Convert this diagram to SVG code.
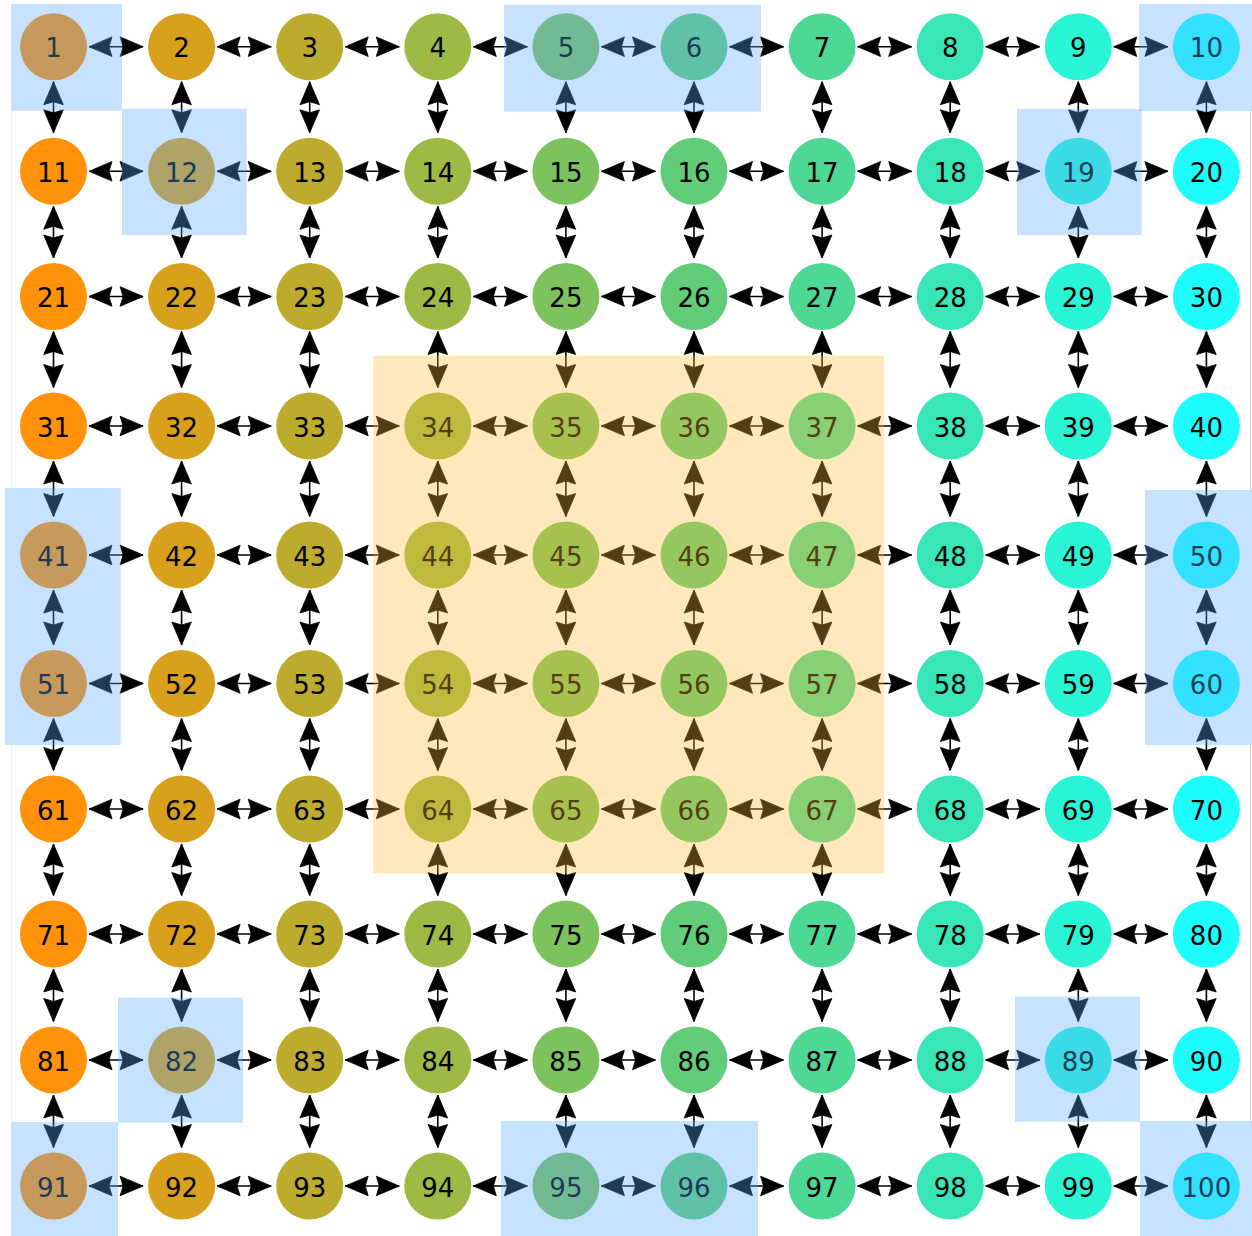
<svg xmlns="http://www.w3.org/2000/svg" width="1252" height="1236" viewBox="0 0 1252 1236">
<style>
.bg{fill:#fff}
.edge path{fill:none;stroke:#000;stroke-width:1.6;marker-start:url(#ah);marker-end:url(#ah)}
.node text{font-family:"DejaVu Sans",sans-serif;font-size:26px;fill:#000;text-anchor:middle}
.k1{fill:#ff9208}.k2{fill:#d9a01b}.k3{fill:#bcab2d}.k4{fill:#9fba44}.k5{fill:#7dc35d}
.k6{fill:#62cd78}.k7{fill:#4ed895}.k8{fill:#39e6b8}.k9{fill:#2af4d6}.k10{fill:#1dfdfd}
.hl{fill:#5aa9ff;fill-opacity:0.34}
.ho{fill:#ffbc34;fill-opacity:0.33}
.frame{stroke-width:1;fill:none}
</style>
<defs>
<marker id="ah" viewBox="-25 -12 26 24" refX="0" refY="0" markerWidth="26" markerHeight="24" markerUnits="userSpaceOnUse" orient="auto-start-reverse">
<path d="M0,0 L-23,-9.8 L-20,0 L-23,9.8 Z" fill="#000" stroke="#000" stroke-width="0.8" stroke-linejoin="miter"/>
</marker>
</defs>
<rect class="bg" x="0" y="0" width="1252" height="1236"/>
<g id="frame-lines">
<path class="frame" stroke="#efefef" d="M11.5 110V488M11.5 745V1122"/>
<path class="frame" stroke="#cfcfcf" d="M1250.5 111V490M1250.5 745V1121"/>
</g>
<g id="connectors" class="edge">
<path d="M89 46.7H143.1"/><path d="M217.1 46.7H271.2"/><path d="M345.2 46.7H399.3"/><path d="M473.3 46.7H527.4"/><path d="M601.4 46.7H655.5"/><path d="M729.5 46.7H783.6"/><path d="M857.6 46.7H911.7"/><path d="M985.7 46.7H1039.8"/><path d="M1113.8 46.7H1167.9"/>
<path d="M89 171.3H143.1"/><path d="M217.1 171.3H271.2"/><path d="M345.2 171.3H399.3"/><path d="M473.3 171.3H527.4"/><path d="M601.4 171.3H655.5"/><path d="M729.5 171.3H783.6"/><path d="M857.6 171.3H911.7"/><path d="M985.7 171.3H1039.8"/><path d="M1113.8 171.3H1167.9"/>
<path d="M89 296.5H143.1"/><path d="M217.1 296.5H271.2"/><path d="M345.2 296.5H399.3"/><path d="M473.3 296.5H527.4"/><path d="M601.4 296.5H655.5"/><path d="M729.5 296.5H783.6"/><path d="M857.6 296.5H911.7"/><path d="M985.7 296.5H1039.8"/><path d="M1113.8 296.5H1167.9"/>
<path d="M89 426H143.1"/><path d="M217.1 426H271.2"/><path d="M345.2 426H399.3"/><path d="M473.3 426H527.4"/><path d="M601.4 426H655.5"/><path d="M729.5 426H783.6"/><path d="M857.6 426H911.7"/><path d="M985.7 426H1039.8"/><path d="M1113.8 426H1167.9"/>
<path d="M89 555H143.1"/><path d="M217.1 555H271.2"/><path d="M345.2 555H399.3"/><path d="M473.3 555H527.4"/><path d="M601.4 555H655.5"/><path d="M729.5 555H783.6"/><path d="M857.6 555H911.7"/><path d="M985.7 555H1039.8"/><path d="M1113.8 555H1167.9"/>
<path d="M89 683.5H143.1"/><path d="M217.1 683.5H271.2"/><path d="M345.2 683.5H399.3"/><path d="M473.3 683.5H527.4"/><path d="M601.4 683.5H655.5"/><path d="M729.5 683.5H783.6"/><path d="M857.6 683.5H911.7"/><path d="M985.7 683.5H1039.8"/><path d="M1113.8 683.5H1167.9"/>
<path d="M89 809H143.1"/><path d="M217.1 809H271.2"/><path d="M345.2 809H399.3"/><path d="M473.3 809H527.4"/><path d="M601.4 809H655.5"/><path d="M729.5 809H783.6"/><path d="M857.6 809H911.7"/><path d="M985.7 809H1039.8"/><path d="M1113.8 809H1167.9"/>
<path d="M89 934H143.1"/><path d="M217.1 934H271.2"/><path d="M345.2 934H399.3"/><path d="M473.3 934H527.4"/><path d="M601.4 934H655.5"/><path d="M729.5 934H783.6"/><path d="M857.6 934H911.7"/><path d="M985.7 934H1039.8"/><path d="M1113.8 934H1167.9"/>
<path d="M89 1060H143.1"/><path d="M217.1 1060H271.2"/><path d="M345.2 1060H399.3"/><path d="M473.3 1060H527.4"/><path d="M601.4 1060H655.5"/><path d="M729.5 1060H783.6"/><path d="M857.6 1060H911.7"/><path d="M985.7 1060H1039.8"/><path d="M1113.8 1060H1167.9"/>
<path d="M89 1186H143.1"/><path d="M217.1 1186H271.2"/><path d="M345.2 1186H399.3"/><path d="M473.3 1186H527.4"/><path d="M601.4 1186H655.5"/><path d="M729.5 1186H783.6"/><path d="M857.6 1186H911.7"/><path d="M985.7 1186H1039.8"/><path d="M1113.8 1186H1167.9"/>
<path d="M53.5 81.7V132.8"/><path d="M53.5 206.3V258"/><path d="M53.5 331.5V387.5"/><path d="M53.5 461V516.5"/><path d="M53.5 590V645"/><path d="M53.5 718.5V770.5"/><path d="M53.5 844V895.5"/><path d="M53.5 969V1021.5"/><path d="M53.5 1095V1147.5"/>
<path d="M181.6 81.7V132.8"/><path d="M181.6 206.3V258"/><path d="M181.6 331.5V387.5"/><path d="M181.6 461V516.5"/><path d="M181.6 590V645"/><path d="M181.6 718.5V770.5"/><path d="M181.6 844V895.5"/><path d="M181.6 969V1021.5"/><path d="M181.6 1095V1147.5"/>
<path d="M309.7 81.7V132.8"/><path d="M309.7 206.3V258"/><path d="M309.7 331.5V387.5"/><path d="M309.7 461V516.5"/><path d="M309.7 590V645"/><path d="M309.7 718.5V770.5"/><path d="M309.7 844V895.5"/><path d="M309.7 969V1021.5"/><path d="M309.7 1095V1147.5"/>
<path d="M437.8 81.7V132.8"/><path d="M437.8 206.3V258"/><path d="M437.8 331.5V387.5"/><path d="M437.8 461V516.5"/><path d="M437.8 590V645"/><path d="M437.8 718.5V770.5"/><path d="M437.8 844V895.5"/><path d="M437.8 969V1021.5"/><path d="M437.8 1095V1147.5"/>
<path d="M565.9 81.7V132.8"/><path d="M565.9 206.3V258"/><path d="M565.9 331.5V387.5"/><path d="M565.9 461V516.5"/><path d="M565.9 590V645"/><path d="M565.9 718.5V770.5"/><path d="M565.9 844V895.5"/><path d="M565.9 969V1021.5"/><path d="M565.9 1095V1147.5"/>
<path d="M694 81.7V132.8"/><path d="M694 206.3V258"/><path d="M694 331.5V387.5"/><path d="M694 461V516.5"/><path d="M694 590V645"/><path d="M694 718.5V770.5"/><path d="M694 844V895.5"/><path d="M694 969V1021.5"/><path d="M694 1095V1147.5"/>
<path d="M822.1 81.7V132.8"/><path d="M822.1 206.3V258"/><path d="M822.1 331.5V387.5"/><path d="M822.1 461V516.5"/><path d="M822.1 590V645"/><path d="M822.1 718.5V770.5"/><path d="M822.1 844V895.5"/><path d="M822.1 969V1021.5"/><path d="M822.1 1095V1147.5"/>
<path d="M950.2 81.7V132.8"/><path d="M950.2 206.3V258"/><path d="M950.2 331.5V387.5"/><path d="M950.2 461V516.5"/><path d="M950.2 590V645"/><path d="M950.2 718.5V770.5"/><path d="M950.2 844V895.5"/><path d="M950.2 969V1021.5"/><path d="M950.2 1095V1147.5"/>
<path d="M1078.3 81.7V132.8"/><path d="M1078.3 206.3V258"/><path d="M1078.3 331.5V387.5"/><path d="M1078.3 461V516.5"/><path d="M1078.3 590V645"/><path d="M1078.3 718.5V770.5"/><path d="M1078.3 844V895.5"/><path d="M1078.3 969V1021.5"/><path d="M1078.3 1095V1147.5"/>
<path d="M1206.4 81.7V132.8"/><path d="M1206.4 206.3V258"/><path d="M1206.4 331.5V387.5"/><path d="M1206.4 461V516.5"/><path d="M1206.4 590V645"/><path d="M1206.4 718.5V770.5"/><path d="M1206.4 844V895.5"/><path d="M1206.4 969V1021.5"/><path d="M1206.4 1095V1147.5"/>
</g>
<g id="nodes">
<g id="n1" class="node"><circle class="k1" cx="53.5" cy="46.7" r="33.5"/><text x="53.5" y="57.2">1</text></g>
<g id="n2" class="node"><circle class="k2" cx="181.6" cy="46.7" r="33.5"/><text x="181.6" y="57.2">2</text></g>
<g id="n3" class="node"><circle class="k3" cx="309.7" cy="46.7" r="33.5"/><text x="309.7" y="57.2">3</text></g>
<g id="n4" class="node"><circle class="k4" cx="437.8" cy="46.7" r="33.5"/><text x="437.8" y="57.2">4</text></g>
<g id="n5" class="node"><circle class="k5" cx="565.9" cy="46.7" r="33.5"/><text x="565.9" y="57.2">5</text></g>
<g id="n6" class="node"><circle class="k6" cx="694" cy="46.7" r="33.5"/><text x="694" y="57.2">6</text></g>
<g id="n7" class="node"><circle class="k7" cx="822.1" cy="46.7" r="33.5"/><text x="822.1" y="57.2">7</text></g>
<g id="n8" class="node"><circle class="k8" cx="950.2" cy="46.7" r="33.5"/><text x="950.2" y="57.2">8</text></g>
<g id="n9" class="node"><circle class="k9" cx="1078.3" cy="46.7" r="33.5"/><text x="1078.3" y="57.2">9</text></g>
<g id="n10" class="node"><circle class="k10" cx="1206.4" cy="46.7" r="33.5"/><text x="1206.4" y="57.2">10</text></g>
<g id="n11" class="node"><circle class="k1" cx="53.5" cy="171.3" r="33.5"/><text x="53.5" y="181.8">11</text></g>
<g id="n12" class="node"><circle class="k2" cx="181.6" cy="171.3" r="33.5"/><text x="181.6" y="181.8">12</text></g>
<g id="n13" class="node"><circle class="k3" cx="309.7" cy="171.3" r="33.5"/><text x="309.7" y="181.8">13</text></g>
<g id="n14" class="node"><circle class="k4" cx="437.8" cy="171.3" r="33.5"/><text x="437.8" y="181.8">14</text></g>
<g id="n15" class="node"><circle class="k5" cx="565.9" cy="171.3" r="33.5"/><text x="565.9" y="181.8">15</text></g>
<g id="n16" class="node"><circle class="k6" cx="694" cy="171.3" r="33.5"/><text x="694" y="181.8">16</text></g>
<g id="n17" class="node"><circle class="k7" cx="822.1" cy="171.3" r="33.5"/><text x="822.1" y="181.8">17</text></g>
<g id="n18" class="node"><circle class="k8" cx="950.2" cy="171.3" r="33.5"/><text x="950.2" y="181.8">18</text></g>
<g id="n19" class="node"><circle class="k9" cx="1078.3" cy="171.3" r="33.5"/><text x="1078.3" y="181.8">19</text></g>
<g id="n20" class="node"><circle class="k10" cx="1206.4" cy="171.3" r="33.5"/><text x="1206.4" y="181.8">20</text></g>
<g id="n21" class="node"><circle class="k1" cx="53.5" cy="296.5" r="33.5"/><text x="53.5" y="307">21</text></g>
<g id="n22" class="node"><circle class="k2" cx="181.6" cy="296.5" r="33.5"/><text x="181.6" y="307">22</text></g>
<g id="n23" class="node"><circle class="k3" cx="309.7" cy="296.5" r="33.5"/><text x="309.7" y="307">23</text></g>
<g id="n24" class="node"><circle class="k4" cx="437.8" cy="296.5" r="33.5"/><text x="437.8" y="307">24</text></g>
<g id="n25" class="node"><circle class="k5" cx="565.9" cy="296.5" r="33.5"/><text x="565.9" y="307">25</text></g>
<g id="n26" class="node"><circle class="k6" cx="694" cy="296.5" r="33.5"/><text x="694" y="307">26</text></g>
<g id="n27" class="node"><circle class="k7" cx="822.1" cy="296.5" r="33.5"/><text x="822.1" y="307">27</text></g>
<g id="n28" class="node"><circle class="k8" cx="950.2" cy="296.5" r="33.5"/><text x="950.2" y="307">28</text></g>
<g id="n29" class="node"><circle class="k9" cx="1078.3" cy="296.5" r="33.5"/><text x="1078.3" y="307">29</text></g>
<g id="n30" class="node"><circle class="k10" cx="1206.4" cy="296.5" r="33.5"/><text x="1206.4" y="307">30</text></g>
<g id="n31" class="node"><circle class="k1" cx="53.5" cy="426" r="33.5"/><text x="53.5" y="436.5">31</text></g>
<g id="n32" class="node"><circle class="k2" cx="181.6" cy="426" r="33.5"/><text x="181.6" y="436.5">32</text></g>
<g id="n33" class="node"><circle class="k3" cx="309.7" cy="426" r="33.5"/><text x="309.7" y="436.5">33</text></g>
<g id="n34" class="node"><circle class="k4" cx="437.8" cy="426" r="33.5"/><text x="437.8" y="436.5">34</text></g>
<g id="n35" class="node"><circle class="k5" cx="565.9" cy="426" r="33.5"/><text x="565.9" y="436.5">35</text></g>
<g id="n36" class="node"><circle class="k6" cx="694" cy="426" r="33.5"/><text x="694" y="436.5">36</text></g>
<g id="n37" class="node"><circle class="k7" cx="822.1" cy="426" r="33.5"/><text x="822.1" y="436.5">37</text></g>
<g id="n38" class="node"><circle class="k8" cx="950.2" cy="426" r="33.5"/><text x="950.2" y="436.5">38</text></g>
<g id="n39" class="node"><circle class="k9" cx="1078.3" cy="426" r="33.5"/><text x="1078.3" y="436.5">39</text></g>
<g id="n40" class="node"><circle class="k10" cx="1206.4" cy="426" r="33.5"/><text x="1206.4" y="436.5">40</text></g>
<g id="n41" class="node"><circle class="k1" cx="53.5" cy="555" r="33.5"/><text x="53.5" y="565.5">41</text></g>
<g id="n42" class="node"><circle class="k2" cx="181.6" cy="555" r="33.5"/><text x="181.6" y="565.5">42</text></g>
<g id="n43" class="node"><circle class="k3" cx="309.7" cy="555" r="33.5"/><text x="309.7" y="565.5">43</text></g>
<g id="n44" class="node"><circle class="k4" cx="437.8" cy="555" r="33.5"/><text x="437.8" y="565.5">44</text></g>
<g id="n45" class="node"><circle class="k5" cx="565.9" cy="555" r="33.5"/><text x="565.9" y="565.5">45</text></g>
<g id="n46" class="node"><circle class="k6" cx="694" cy="555" r="33.5"/><text x="694" y="565.5">46</text></g>
<g id="n47" class="node"><circle class="k7" cx="822.1" cy="555" r="33.5"/><text x="822.1" y="565.5">47</text></g>
<g id="n48" class="node"><circle class="k8" cx="950.2" cy="555" r="33.5"/><text x="950.2" y="565.5">48</text></g>
<g id="n49" class="node"><circle class="k9" cx="1078.3" cy="555" r="33.5"/><text x="1078.3" y="565.5">49</text></g>
<g id="n50" class="node"><circle class="k10" cx="1206.4" cy="555" r="33.5"/><text x="1206.4" y="565.5">50</text></g>
<g id="n51" class="node"><circle class="k1" cx="53.5" cy="683.5" r="33.5"/><text x="53.5" y="694">51</text></g>
<g id="n52" class="node"><circle class="k2" cx="181.6" cy="683.5" r="33.5"/><text x="181.6" y="694">52</text></g>
<g id="n53" class="node"><circle class="k3" cx="309.7" cy="683.5" r="33.5"/><text x="309.7" y="694">53</text></g>
<g id="n54" class="node"><circle class="k4" cx="437.8" cy="683.5" r="33.5"/><text x="437.8" y="694">54</text></g>
<g id="n55" class="node"><circle class="k5" cx="565.9" cy="683.5" r="33.5"/><text x="565.9" y="694">55</text></g>
<g id="n56" class="node"><circle class="k6" cx="694" cy="683.5" r="33.5"/><text x="694" y="694">56</text></g>
<g id="n57" class="node"><circle class="k7" cx="822.1" cy="683.5" r="33.5"/><text x="822.1" y="694">57</text></g>
<g id="n58" class="node"><circle class="k8" cx="950.2" cy="683.5" r="33.5"/><text x="950.2" y="694">58</text></g>
<g id="n59" class="node"><circle class="k9" cx="1078.3" cy="683.5" r="33.5"/><text x="1078.3" y="694">59</text></g>
<g id="n60" class="node"><circle class="k10" cx="1206.4" cy="683.5" r="33.5"/><text x="1206.4" y="694">60</text></g>
<g id="n61" class="node"><circle class="k1" cx="53.5" cy="809" r="33.5"/><text x="53.5" y="819.5">61</text></g>
<g id="n62" class="node"><circle class="k2" cx="181.6" cy="809" r="33.5"/><text x="181.6" y="819.5">62</text></g>
<g id="n63" class="node"><circle class="k3" cx="309.7" cy="809" r="33.5"/><text x="309.7" y="819.5">63</text></g>
<g id="n64" class="node"><circle class="k4" cx="437.8" cy="809" r="33.5"/><text x="437.8" y="819.5">64</text></g>
<g id="n65" class="node"><circle class="k5" cx="565.9" cy="809" r="33.5"/><text x="565.9" y="819.5">65</text></g>
<g id="n66" class="node"><circle class="k6" cx="694" cy="809" r="33.5"/><text x="694" y="819.5">66</text></g>
<g id="n67" class="node"><circle class="k7" cx="822.1" cy="809" r="33.5"/><text x="822.1" y="819.5">67</text></g>
<g id="n68" class="node"><circle class="k8" cx="950.2" cy="809" r="33.5"/><text x="950.2" y="819.5">68</text></g>
<g id="n69" class="node"><circle class="k9" cx="1078.3" cy="809" r="33.5"/><text x="1078.3" y="819.5">69</text></g>
<g id="n70" class="node"><circle class="k10" cx="1206.4" cy="809" r="33.5"/><text x="1206.4" y="819.5">70</text></g>
<g id="n71" class="node"><circle class="k1" cx="53.5" cy="934" r="33.5"/><text x="53.5" y="944.5">71</text></g>
<g id="n72" class="node"><circle class="k2" cx="181.6" cy="934" r="33.5"/><text x="181.6" y="944.5">72</text></g>
<g id="n73" class="node"><circle class="k3" cx="309.7" cy="934" r="33.5"/><text x="309.7" y="944.5">73</text></g>
<g id="n74" class="node"><circle class="k4" cx="437.8" cy="934" r="33.5"/><text x="437.8" y="944.5">74</text></g>
<g id="n75" class="node"><circle class="k5" cx="565.9" cy="934" r="33.5"/><text x="565.9" y="944.5">75</text></g>
<g id="n76" class="node"><circle class="k6" cx="694" cy="934" r="33.5"/><text x="694" y="944.5">76</text></g>
<g id="n77" class="node"><circle class="k7" cx="822.1" cy="934" r="33.5"/><text x="822.1" y="944.5">77</text></g>
<g id="n78" class="node"><circle class="k8" cx="950.2" cy="934" r="33.5"/><text x="950.2" y="944.5">78</text></g>
<g id="n79" class="node"><circle class="k9" cx="1078.3" cy="934" r="33.5"/><text x="1078.3" y="944.5">79</text></g>
<g id="n80" class="node"><circle class="k10" cx="1206.4" cy="934" r="33.5"/><text x="1206.4" y="944.5">80</text></g>
<g id="n81" class="node"><circle class="k1" cx="53.5" cy="1060" r="33.5"/><text x="53.5" y="1070.5">81</text></g>
<g id="n82" class="node"><circle class="k2" cx="181.6" cy="1060" r="33.5"/><text x="181.6" y="1070.5">82</text></g>
<g id="n83" class="node"><circle class="k3" cx="309.7" cy="1060" r="33.5"/><text x="309.7" y="1070.5">83</text></g>
<g id="n84" class="node"><circle class="k4" cx="437.8" cy="1060" r="33.5"/><text x="437.8" y="1070.5">84</text></g>
<g id="n85" class="node"><circle class="k5" cx="565.9" cy="1060" r="33.5"/><text x="565.9" y="1070.5">85</text></g>
<g id="n86" class="node"><circle class="k6" cx="694" cy="1060" r="33.5"/><text x="694" y="1070.5">86</text></g>
<g id="n87" class="node"><circle class="k7" cx="822.1" cy="1060" r="33.5"/><text x="822.1" y="1070.5">87</text></g>
<g id="n88" class="node"><circle class="k8" cx="950.2" cy="1060" r="33.5"/><text x="950.2" y="1070.5">88</text></g>
<g id="n89" class="node"><circle class="k9" cx="1078.3" cy="1060" r="33.5"/><text x="1078.3" y="1070.5">89</text></g>
<g id="n90" class="node"><circle class="k10" cx="1206.4" cy="1060" r="33.5"/><text x="1206.4" y="1070.5">90</text></g>
<g id="n91" class="node"><circle class="k1" cx="53.5" cy="1186" r="33.5"/><text x="53.5" y="1196.5">91</text></g>
<g id="n92" class="node"><circle class="k2" cx="181.6" cy="1186" r="33.5"/><text x="181.6" y="1196.5">92</text></g>
<g id="n93" class="node"><circle class="k3" cx="309.7" cy="1186" r="33.5"/><text x="309.7" y="1196.5">93</text></g>
<g id="n94" class="node"><circle class="k4" cx="437.8" cy="1186" r="33.5"/><text x="437.8" y="1196.5">94</text></g>
<g id="n95" class="node"><circle class="k5" cx="565.9" cy="1186" r="33.5"/><text x="565.9" y="1196.5">95</text></g>
<g id="n96" class="node"><circle class="k6" cx="694" cy="1186" r="33.5"/><text x="694" y="1196.5">96</text></g>
<g id="n97" class="node"><circle class="k7" cx="822.1" cy="1186" r="33.5"/><text x="822.1" y="1196.5">97</text></g>
<g id="n98" class="node"><circle class="k8" cx="950.2" cy="1186" r="33.5"/><text x="950.2" y="1196.5">98</text></g>
<g id="n99" class="node"><circle class="k9" cx="1078.3" cy="1186" r="33.5"/><text x="1078.3" y="1196.5">99</text></g>
<g id="n100" class="node"><circle class="k10" cx="1206.4" cy="1186" r="33.5"/><text x="1206.4" y="1196.5">100</text></g>
</g>
<g id="highlights">
<rect class="hl" x="11" y="4" width="111" height="106.7"/>
<rect class="hl" x="504" y="5" width="257" height="106.7"/>
<rect class="hl" x="1139" y="4" width="113" height="107"/>
<rect class="hl" x="122" y="108.7" width="124.7" height="126.3"/>
<rect class="hl" x="1017" y="109" width="124.7" height="126"/>
<rect class="hl" x="5" y="488" width="115.7" height="257"/>
<rect class="hl" x="1145" y="490" width="107" height="255"/>
<rect class="hl" x="118" y="997.7" width="125" height="125"/>
<rect class="hl" x="11" y="1122" width="107" height="114"/>
<rect class="hl" x="501" y="1121" width="257" height="115"/>
<rect class="hl" x="1015" y="996.7" width="125" height="125"/>
<rect class="hl" x="1140" y="1121" width="112" height="115"/>
<rect class="ho" x="373.3" y="355.7" width="510.7" height="517.6"/>
</g>
</svg>
